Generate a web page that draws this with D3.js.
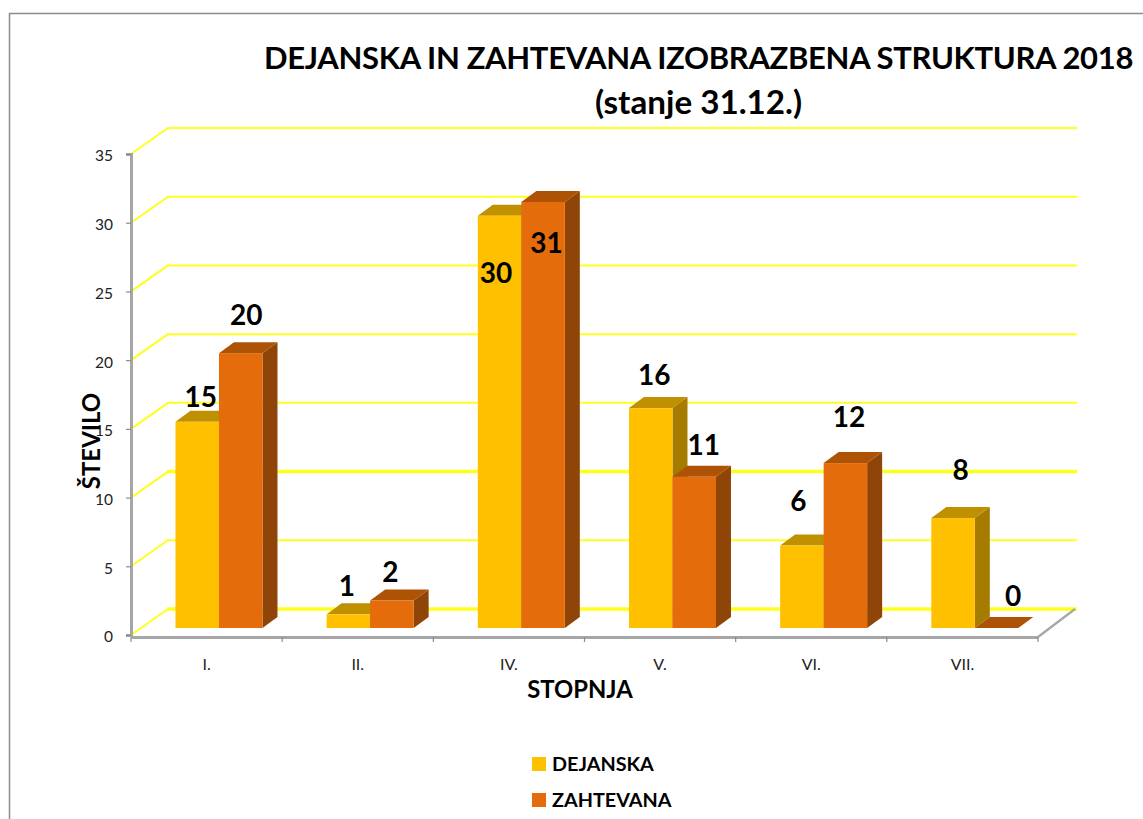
<!DOCTYPE html>
<html><head><meta charset="utf-8">
<script src="https://cdn.jsdelivr.net/npm/d3@7"></script>
<style>html,body{margin:0;background:#fff;overflow:hidden}svg{display:block;font-family:Lato,"Open Sans",sans-serif}</style>
</head><body><svg id="c" width="1143" height="819"></svg>
<script>
const categories = ["I.","II.","IV.","V.","VI.","VII."];
const seriesNames = ["DEJANSKA","ZAHTEVANA"];
const dejanska = [15,1,30,16,6,8];
const zahtevana = [20,2,31,11,12,0];
const yTicks = [0,5,10,15,20,25,30,35];
const heavyGrid = [0,10];
const titleLines = ["DEJANSKA IN ZAHTEVANA IZOBRAZBENA STRUKTURA 2018","(stanje 31.12.)"];
// manual label nudges (dx, dy from the bar's front top-centre)
const dejanskaNudge = [[4,-25],[-1,-28],[-3,57],[4,-33],[-3,-44],[8,-48]];
const zahtevanaNudge = [[6,-38],[-1,-28],[4,41],[10,-32],[4,-46],[17,-32]];

const svg = d3.select("#c");
const wallDx=37, wallDy=-26, barDx=12.4, barDy=-7, depthX=15, depthY=-11;
const x0 = d3.scaleBand().domain(categories).range([131,1038]);
const x1 = d3.scaleBand().domain(seriesNames).range([0,87]);
const y = d3.scaleLinear().domain([0,35]).range([635,154]);
const palette = d3.scaleOrdinal().domain(seriesNames).range([
  {front:"#FFC000",top:"#BF9000",side:"#A67C00"},
  {front:"#E46C0A",top:"#AE5205",side:"#8F4507"}]);

// frame
svg.append("path").attr("d","M9.5,819V13.5H1143").attr("fill","none").attr("stroke","#8C8C8C").attr("stroke-width",1.5);

// gridlines: thin slanted floor edge, then the wall line
const grid = svg.append("g");
yTicks.forEach(v=>{
  grid.append("line").attr("x1",131).attr("y1",y(v)).attr("x2",131+wallDx).attr("y2",y(v)+wallDy)
    .attr("stroke","#FFFF1E").attr("stroke-width",2);
  grid.append("line").attr("x1",131+wallDx-1).attr("y1",y(v)+wallDy).attr("x2",1077).attr("y2",y(v)+wallDy)
    .attr("stroke","#FFFF1E").attr("stroke-width",heavyGrid.includes(v)?3.4:2);
});

// axes
const axisColor="#A6A6A6";
const yAxis = svg.append("g").attr("transform","translate(131,0)")
  .call(d3.axisLeft(y).tickValues(yTicks).tickSize(5).tickPadding(13));
yAxis.select(".domain").attr("stroke",axisColor).attr("stroke-width",3);
yAxis.selectAll("line").attr("stroke","#8C8C8C").attr("stroke-width",1.2);
yAxis.selectAll("text").attr("font-family","Lato").attr("font-size",15.5).attr("fill","#222").attr("dy","0.45em");

const xAxis = svg.append("g").attr("transform","translate(0,637)")
  .call(d3.axisBottom(x0).tickSize(0).tickPadding(22));
xAxis.select(".domain").attr("stroke",axisColor).attr("stroke-width",3.2);
xAxis.selectAll("text").attr("font-family","Lato").attr("font-size",16).attr("fill","#222").attr("dx",0);
const edges = categories.map(c=>x0(c)).concat([x0.range()[1]]);
xAxis.selectAll(".edge").data(edges).join("line").attr("x1",d=>d).attr("x2",d=>d).attr("y1",0).attr("y2",5)
  .attr("stroke","#8C8C8C").attr("stroke-width",1.2);
svg.append("line").attr("x1",1038).attr("y1",y(0)+2).attr("x2",1038+wallDx).attr("y2",y(0)+wallDy)
  .attr("stroke","#A6A6A6").attr("stroke-width",2.2);

// bars
const rows = [dejanska,zahtevana];
const nudges = [dejanskaNudge,zahtevanaNudge];
const base = y(0)+barDy;
const bw = x1.bandwidth();
const barsG = svg.append("g");
const labels = [];
categories.forEach((c,i)=>{
  seriesNames.forEach((s,j)=>{
    const v = rows[j][i], col = palette(s);
    const L = x0(c)+x0.bandwidth()/2+barDx-43.5+x1(s), R = L+bw, T = y(v)+barDy;
    const g = barsG.append("g");
    g.append("polygon").attr("fill",col.side)
      .attr("points",[[R,T],[R+depthX,T+depthY],[R+depthX,base+depthY],[R,base]].join(" "));
    g.append("polygon").attr("fill",col.top)
      .attr("points",[[L,T],[L+depthX,T+depthY],[R+depthX,T+depthY],[R,T]].join(" "));
    g.append("rect").attr("x",L).attr("y",T).attr("width",bw).attr("height",Math.max(0,base-T)).attr("fill",col.front);
    labels.push({v,x:L+bw/2+nudges[j][i][0],y:T+nudges[j][i][1]});
  });
});

// data labels
svg.append("g").selectAll("text").data(labels).join("text")
  .attr("x",d=>d.x-0.5).attr("y",d=>d.y).attr("dy","0.35em").attr("text-anchor","middle")
  .attr("font-weight",700).attr("font-size",28).attr("fill","#000").text(d=>d.v);

// title
svg.append("text").attr("x",698.5).attr("y",69).attr("text-anchor","middle")
  .attr("font-weight",700).attr("font-size",31).attr("letter-spacing",-0.33).attr("fill","#000").text(titleLines[0]);
svg.append("text").attr("x",698.5).attr("y",114).attr("text-anchor","middle")
  .attr("font-weight",700).attr("font-size",33.2).attr("fill","#000").text(titleLines[1]);

// axis titles
svg.append("text").attr("x",580).attr("y",698).attr("text-anchor","middle")
  .attr("font-weight",700).attr("font-size",23.8).text("STOPNJA");
svg.append("text").attr("transform","translate(100,441) rotate(-90)").attr("text-anchor","middle")
  .attr("font-weight",700).attr("font-size",24).text("ŠTEVILO");

// legend
const lg = svg.append("g").selectAll("g").data(seriesNames).join("g")
  .attr("transform",(d,i)=>`translate(532,${757+i*36})`);
lg.append("rect").attr("width",14).attr("height",14).attr("fill",d=>palette(d).front);
lg.append("text").attr("x",20).attr("y",14).attr("font-weight",700).attr("font-size",19.8).text(d=>d);
</script></body></html>
